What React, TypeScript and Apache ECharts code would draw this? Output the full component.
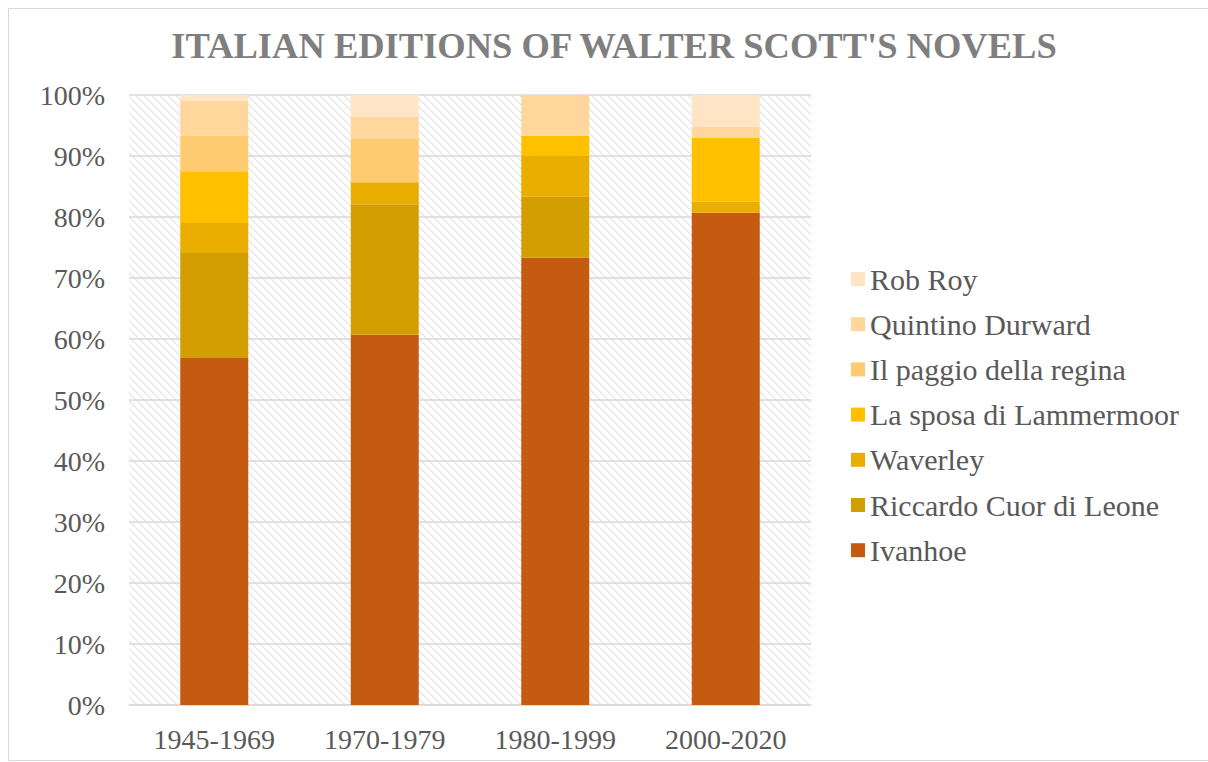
import React, { useEffect, useRef } from "react";
import * as echarts from "echarts";

// Periods on the category axis
const periods = ["1945-1969", "1970-1979", "1980-1999", "2000-2020"];

// Share of Italian editions per novel in each period (percent)
const ivanhoe = [56.9, 60.7, 73.3, 80.7];
const riccardo = [17.2, 21.4, 10.0, 0];
const waverley = [4.9, 3.6, 6.7, 1.8];
const sposa = [8.5, 0, 3.3, 10.5];
const paggio = [5.8, 7.1, 0, 0];
const quintino = [5.8, 3.6, 6.7, 1.8];
const robRoy = [0.9, 3.6, 0, 5.2];

const seriesNames = [
  "Ivanhoe",
  "Riccardo Cuor di Leone",
  "Waverley",
  "La sposa di Lammermoor",
  "Il paggio della regina",
  "Quintino Durward",
  "Rob Roy",
];
const seriesValues = [ivanhoe, riccardo, waverley, sposa, paggio, quintino, robRoy];
const seriesColors = ["#C55A11", "#D39E00", "#E9AE00", "#FFC000", "#FFCB70", "#FFD79D", "#FFE5C6"];

const yTicks = [0, 10, 20, 30, 40, 50, 60, 70, 80, 90, 100];

const FONT = "'Liberation Serif', 'Times New Roman', serif";

// Light diagonal hatch used as the plot-area fill
function makeHatch(): HTMLCanvasElement {
  const c = document.createElement("canvas");
  c.width = 8;
  c.height = 8;
  const ctx = c.getContext("2d")!;
  ctx.fillStyle = "#ffffff";
  ctx.fillRect(0, 0, 8, 8);
  for (let y = 0; y < 8; y++) {
    ctx.fillStyle = y % 2 === 0 ? "#dedede" : "#e4e4e4";
    ctx.fillRect(y % 8, y, 1, 1);
    ctx.fillStyle = "#f0f0f0";
    ctx.fillRect((y + 1) % 8, y, 1, 1);
  }
  return c;
}

export default function App() {
  const ref = useRef<HTMLDivElement>(null);

  useEffect(() => {
    if (!ref.current) return;
    const chart = echarts.init(ref.current, null, { renderer: "svg" });
    const hatch = makeHatch();

    chart.setOption({
      animation: false,
      backgroundColor: "#ffffff",
      title: {
        text: "ITALIAN EDITIONS OF WALTER SCOTT'S NOVELS",
        left: 609,
        textAlign: "center",
        top: 22,
        textStyle: {
          fontFamily: FONT,
          fontWeight: "bold",
          fontSize: 36.5,
          color: "#7F7F7F",
        },
      },
      graphic: [
        {
          type: "rect",
          shape: { x: 8.5, y: 8.5, width: 1220, height: 752 },
          style: { fill: "none", stroke: "#D9D9D9", lineWidth: 1 },
          silent: true,
        },
      ],
      legend: {
        orient: "vertical",
        left: 846,
        top: 259,
        itemWidth: 14,
        itemHeight: 14,
        itemGap: 15.2,
        icon: "rect",
        data: [...seriesNames].reverse(),
        textStyle: {
          fontFamily: FONT,
          fontSize: 30,
          lineHeight: 30,
          color: "#595959",
        },
      },
      grid: {
        left: 129,
        right: 397,
        top: 95,
        bottom: 57,
        show: true,
        borderWidth: 0,
        backgroundColor: { image: hatch, repeat: "repeat" } as any,
      },
      xAxis: {
        type: "category",
        data: periods,
        axisTick: { show: false },
        axisLine: { show: true, lineStyle: { color: "#D9D9D9", width: 1.5 } },
        axisLabel: {
          fontFamily: FONT,
          fontSize: 28,
          color: "#595959",
          margin: 20,
        },
      },
      yAxis: {
        type: "value",
        min: yTicks[0],
        max: yTicks[yTicks.length - 1],
        interval: 10,
        axisLine: { show: false },
        axisTick: { show: false },
        splitLine: { lineStyle: { color: "#D9D9D9", width: 1.5 } },
        axisLabel: {
          fontFamily: FONT,
          fontSize: 28,
          color: "#595959",
          margin: 24,
          formatter: "{value}%",
        },
      },
      series: seriesNames.map((name, i) => ({
        name,
        type: "bar",
        stack: "total",
        barWidth: 68,
        data: seriesValues[i],
        itemStyle: { color: seriesColors[i] },
      })),
    });

    return () => chart.dispose();
  }, []);

  return (
    <div
      ref={ref}
      style={{ position: "absolute", left: 0, top: 0, width: 1208, height: 762 }}
    />
  );
}
